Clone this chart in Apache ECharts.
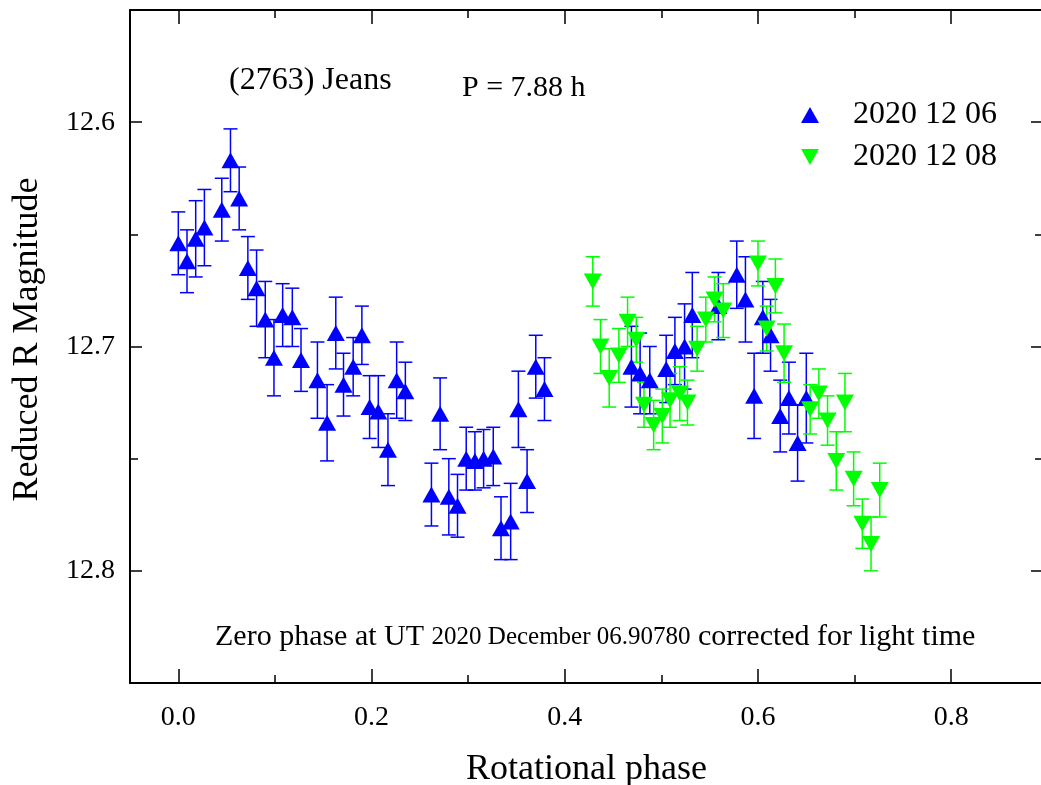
<!DOCTYPE html>
<html><head><meta charset="utf-8">
<script src="https://cdn.jsdelivr.net/npm/echarts@6/dist/echarts.min.js"></script>
<style>html,body{margin:0;padding:0;background:#fff}#c{width:1041px;height:785px}</style>
</head><body><div id="c"></div>
<script>
// 2020 12 06 (blue, up triangles): phase, reduced R magnitude, error
const bluePhase = [0.000,0.009,0.018,0.027,0.045,0.054,0.063,0.072,0.081,0.090,0.099,0.108,0.118,0.127,0.144,0.154,0.163,0.171,0.181,0.190,0.198,0.207,0.217,0.226,0.235,0.262,0.271,0.280,0.289,0.298,0.307,0.316,0.326,0.334,0.344,0.352,0.361,0.370,0.379,
  0.469,0.478,0.488,0.505,0.514,0.524,0.532,0.559,0.578,0.587,0.596,0.605,0.613,0.623,0.632,0.641,0.650];
const blueMag = [12.654,12.662,12.652,12.647,12.639,12.617,12.634,12.665,12.674,12.688,12.705,12.686,12.687,12.706,12.715,12.734,12.694,12.717,12.709,12.695,12.727,12.729,12.746,12.715,12.720,12.766,12.730,12.767,12.771,12.750,12.751,12.750,12.749,12.781,12.778,12.728,12.760,12.709,12.719,
  12.709,12.712,12.715,12.710,12.702,12.700,12.686,12.682,12.668,12.679,12.722,12.687,12.695,12.731,12.723,12.743,12.723];
const blueErr = [0.014,0.014,0.017,0.017,0.014,0.014,0.014,0.014,0.017,0.017,0.017,0.014,0.013,0.014,0.017,0.017,0.016,0.014,0.013,0.013,0.014,0.016,0.016,0.017,0.013,0.014,0.016,0.017,0.014,0.014,0.013,0.013,0.013,0.014,0.017,0.017,0.014,0.014,0.014,
  0.018,0.018,0.015,0.015,0.015,0.019,0.019,0.015,0.015,0.019,0.019,0.016,0.016,0.016,0.016,0.017,0.020];
// 2020 12 08 (green, down triangles)
const greenPhase = [0.429,0.437,0.446,0.456,0.465,0.474,0.482,0.492,0.501,0.509,0.519,0.527,0.537,0.546,0.555,0.564,0.600,0.609,0.618,0.627,0.654,0.663,0.672,0.681,0.690,0.699,0.708,0.717,0.726];
const greenMag = [12.671,12.700,12.714,12.704,12.689,12.697,12.726,12.735,12.731,12.724,12.721,12.725,12.701,12.688,12.679,12.684,12.663,12.692,12.673,12.703,12.728,12.721,12.733,12.751,12.725,12.759,12.779,12.788,12.764];
const greenErr = [0.011,0.012,0.013,0.012,0.011,0.010,0.010,0.011,0.012,0.012,0.012,0.010,0.010,0.010,0.010,0.012,0.010,0.010,0.012,0.013,0.011,0.011,0.011,0.013,0.013,0.012,0.011,0.012,0.012];
// tick labels
const xMajorTicks = [0.0,0.2,0.4,0.6,0.8];
const xMinorTicks = [0.1,0.3,0.5,0.7];
const yMajorTicks = [12.6,12.7,12.8];
const yMinorTicks = [12.65,12.75];

const FONT = '"Liberation Serif","Times New Roman",serif';
const BLUE = '#0000ff', GREEN = '#00ff00';

const blueData = bluePhase.map((p,i)=>[p, blueMag[i], blueErr[i]]);
const greenData = greenPhase.map((p,i)=>[p, greenMag[i], greenErr[i]]);

function errRender(color){
  return function(params, api){
    const x = api.value(0), y = api.value(1), e = api.value(2);
    const t = api.coord([x, y - e]);
    const b = api.coord([x, y + e]);
    const w = 7;
    const st = {stroke: color, lineWidth: 1.5};
    return {type:'group', children:[
      {type:'line', shape:{x1:t[0], y1:t[1], x2:b[0], y2:b[1]}, style:st},
      {type:'line', shape:{x1:t[0]-w, y1:t[1], x2:t[0]+w, y2:t[1]}, style:st},
      {type:'line', shape:{x1:b[0]-w, y1:b[1], x2:b[0]+w, y2:b[1]}, style:st}
    ]};
  };
}

const XMIN = -0.05, XMAX = 0.895, YMIN = 12.55, YMAX = 12.85;
function xAx(pos, ticks, len, showLine, labels){
  return {type:'value', min:XMIN, max:XMAX, position:pos, gridIndex:0,
    axisLine:{show:showLine, onZero:false, lineStyle:{color:'#000', width:2}},
    axisTick:{show:true, inside:true, length:len, customValues:ticks, lineStyle:{color:'#000', width:1.5}},
    axisLabel: labels ? {show:true, customValues:xMajorTicks, formatter:v=>Number(v).toFixed(1), fontSize:28, fontFamily:FONT, color:'#000', margin:21} : {show:false},
    splitLine:{show:false}};
}
function yAx(pos, ticks, len, showLine, labels){
  return {type:'value', min:YMIN, max:YMAX, inverse:true, position:pos, gridIndex:0,
    axisLine:{show:showLine, onZero:false, lineStyle:{color:'#000', width:2}},
    axisTick:{show:true, inside:true, length:len, customValues:ticks, lineStyle:{color:'#000', width:1.5}},
    axisLabel: labels ? {show:true, customValues:yMajorTicks, formatter:v=>Number(v).toFixed(1), fontSize:28, fontFamily:FONT, color:'#000', margin:15} : {show:false},
    splitLine:{show:false}};
}

const xa0 = xAx('bottom', xMajorTicks, 14, true, true);
xa0.name = 'Rotational phase'; xa0.nameLocation = 'middle'; xa0.nameGap = 69;
xa0.nameTextStyle = {fontSize:36, fontFamily:FONT, color:'#000'};
const ya0 = yAx('left', yMajorTicks, 12, true, true);
ya0.name = 'Reduced R Magnitude'; ya0.nameLocation = 'middle'; ya0.nameGap = 84; ya0.nameRotate = 90;
ya0.nameTextStyle = {fontSize:36, fontFamily:FONT, color:'#000', padding:[0,0,0,14]};

const chart = echarts.init(document.getElementById('c'), null, {renderer:'canvas'});
chart.setOption({
  animation:false,
  backgroundColor:'#fff',
  grid:{left:130, top:10, width:913, height:673, containLabel:false, outerBoundsMode:'none'},
  xAxis:[xa0, xAx('bottom', xMinorTicks, 8, false, false), xAx('top', xMajorTicks, 14, true, false), xAx('top', xMinorTicks, 8, false, false)],
  yAxis:[ya0, yAx('left', yMinorTicks, 8, false, false), yAx('right', yMajorTicks, 12, true, false), yAx('right', yMinorTicks, 8, false, false)],
  legend:{orient:'vertical', left:796, top:94, itemWidth:18, itemHeight:16, itemGap:10,
    textStyle:{fontSize:32, fontFamily:FONT, color:'#000', padding:[0,0,0,29]},
    data:[{name:'2020 12 06', icon:'triangle', itemStyle:{color:BLUE}},
          {name:'2020 12 08', icon:'path://M0,0L20,0L10,18Z', itemStyle:{color:GREEN}}]},
  graphic:[
    {type:'text', left:229, top:65, style:{text:'(2763) Jeans', font:'32px '+FONT, fill:'#000'}},
    {type:'text', left:462, top:73, style:{text:'P = 7.88 h', font:'30px '+FONT, fill:'#000'}},
    {type:'text', left:215, top:622, style:{
      text:'{a|Zero phase at UT }{b|2020 December 06.90780}{a| corrected for light time}',
      rich:{a:{fontSize:30, fontFamily:FONT, fill:'#000', color:'#000'}, b:{fontSize:25, fontFamily:FONT, fill:'#000', color:'#000'}}}}
  ],
  series:[
    {type:'custom', name:'err06', xAxisIndex:0, yAxisIndex:0, renderItem:errRender(BLUE), data:blueData, encode:{x:0, y:1}, z:1, silent:true},
    {type:'custom', name:'err08', xAxisIndex:0, yAxisIndex:0, renderItem:errRender(GREEN), data:greenData, encode:{x:0, y:1}, z:1, silent:true},
    {type:'scatter', name:'2020 12 06', xAxisIndex:0, yAxisIndex:0, data:blueData, symbol:'triangle', symbolSize:[18,16], itemStyle:{color:BLUE, opacity:1}, encode:{x:0, y:1}, z:3},
    {type:'scatter', name:'2020 12 08', xAxisIndex:0, yAxisIndex:0, data:greenData, symbol:'triangle', symbolRotate:180, symbolSize:[18,16], itemStyle:{color:GREEN, opacity:1}, encode:{x:0, y:1}, z:3}
  ]
});
</script></body></html>
